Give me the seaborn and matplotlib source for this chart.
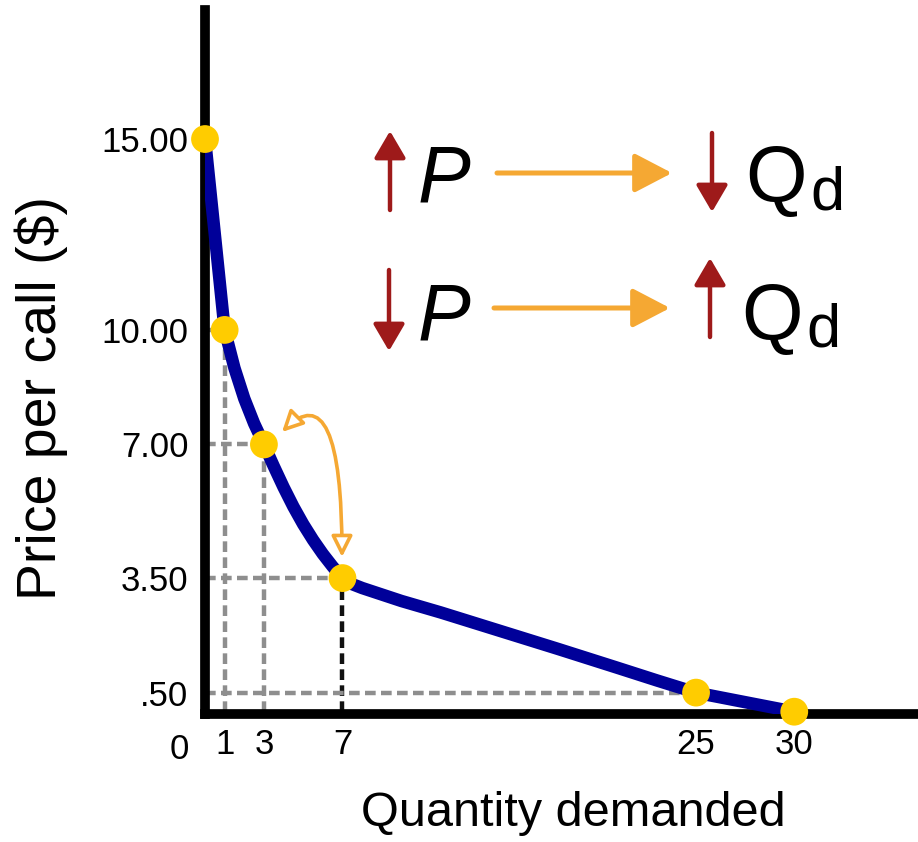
import matplotlib.pyplot as plt
import seaborn as sns
from matplotlib.patches import ArrowStyle

# demand schedule: quantity demanded at each price per call
quantity = [0, 1, 3, 7, 25, 30]
price = [15.0, 10.0, 7.0, 3.5, 0.5, 0.0]

# points
curve_q = [0, 0.5, 1, 1.5, 2, 2.5, 3, 3.5, 4, 4.5, 5, 5.5, 6, 6.5, 7,
           7.5, 8, 10, 12, 15, 18, 21, 23, 25, 27.5, 30]
curve_p = [15.0, 12.5, 10.0, 9.0, 8.2, 7.55, 7.0, 6.43, 5.88, 5.37, 4.91, 4.5, 4.13, 3.8, 3.5,
           3.34, 3.24, 2.9, 2.6, 2.12, 1.64, 1.15, 0.82, 0.5, 0.25, 0.0]

y_ticks = [15.0, 10.0, 7.0, 3.5, 0.5]
y_ticklabels = ["15.00", "10.00", "7.00", "3.50", ".50"]
x_ticks = [1, 3, 7, 25, 30]
x_ticklabels = ["1", "3", "7", "25", "30"]

NAVY = "#000099"
GOLD = "#ffcc00"
ORANGE = "#f5a833"
DARKRED = "#9e1a1a"
GREY = "#8e8e8e"

sns.set_theme(style="white")
plt.rcParams["font.family"] = ["Liberation Sans", "DejaVu Sans"]
plt.rcParams["text.color"] = "black"
plt.rcParams["axes.labelcolor"] = "black"

fig = plt.figure(figsize=(9.18, 8.42), dpi=100)
ax = fig.add_axes([205 / 918, 128 / 842, 713 / 918, 704 / 842])

# dashed guide lines from the points to the axes
dash = dict(lw=3.2, dashes=(2.4, 1.2), zorder=1)
ax.plot([1, 1], [0, 10], color=GREY, **dash)
ax.plot([3, 3], [0, 7], color=GREY, **dash)
ax.plot([7, 7], [0, 3.5], color="#111111", **dash)
ax.plot([0, 1], [10, 10], color=GREY, **dash)
ax.plot([0, 3], [7, 7], color=GREY, **dash)
ax.plot([0, 7], [3.5, 3.5], color=GREY, **dash)
ax.plot([0, 25], [0.5, 0.5], color=GREY, **dash)

sns.lineplot(x=curve_q, y=curve_p, sort=False, color=NAVY, lw=9,
             solid_joinstyle="round", solid_capstyle="round", ax=ax, zorder=3)
sns.scatterplot(x=quantity, y=price, s=400, color=GOLD, edgecolor="none",
                ax=ax, zorder=5, clip_on=False)

ax.set_xlim(0, 36.3)
ax.set_ylim(-0.06, 18.38)
for side in ["top", "right"]:
    ax.spines[side].set_visible(False)
for side in ["left", "bottom"]:
    ax.spines[side].set_color("black")
    ax.spines[side].set_linewidth(7)

ax.set_yticks(y_ticks)
ax.set_yticklabels(y_ticklabels)
ax.set_xticks(x_ticks)
ax.set_xticklabels(x_ticklabels)
ax.tick_params(axis="both", length=0, labelsize=25, colors="black")
ax.tick_params(axis="y", pad=12)
ax.tick_params(axis="x", pad=10)
ax.text(-1.3, -0.55, "0", fontsize=25, ha="center", va="top")

ax.set_xlabel("Quantity demanded", fontsize=35, va="center")
ax.xaxis.set_label_coords((573 - 205) / 713, -(813 - 714) / 704)
ax.set_ylabel("Price per call ($)", fontsize=40, va="center")
ax.yaxis.set_label_coords((41 - 205) / 713, (714 - 398) / 704)


def px(x, y):
    # image pixel (top-left origin) -> figure pixels
    return (x, 842 - y)


def arrow(x0, y0, x1, y1, color, lw, hl, hw):
    ax.annotate("", xy=px(x1, y1), xytext=px(x0, y0),
                xycoords="figure pixels", textcoords="figure pixels",
                arrowprops=dict(arrowstyle=ArrowStyle("-|>", head_length=hl, head_width=hw),
                                mutation_scale=20, color=color, lw=lw,
                                shrinkA=0, shrinkB=0))


# price / quantity relationship
arrow(390, 210, 390, 131, DARKRED, 3.2, 0.82, 0.48)
arrow(712, 133, 712, 212, DARKRED, 3.2, 0.82, 0.48)
arrow(389, 270, 389, 351, DARKRED, 3.2, 0.82, 0.48)
arrow(710, 337, 710, 258, DARKRED, 3.2, 0.82, 0.48)
arrow(497, 173, 672, 173, ORANGE, 3.6, 1.15, 0.6)
arrow(494, 308, 670, 308, ORANGE, 3.6, 1.15, 0.6)

for (x, y) in [(418, 202), (418, 340)]:
    fig.text(x / 918, 1 - y / 842, "P", fontsize=57, style="italic",
             ha="left", va="baseline")
for (x, y, yd) in [(745, 202, 210), (741, 340, 347)]:
    fig.text(x / 918, 1 - y / 842, "Q", fontsize=57, ha="left", va="baseline")
    fig.text((x + 65) / 918, 1 - yd / 842, "d", fontsize=44, ha="left", va="baseline")

# curved double arrow between (3, 7) and (7, 3.5)
ax.annotate("", xy=px(342, 557), xytext=px(282, 432),
            xycoords="figure pixels", textcoords="figure pixels",
            arrowprops=dict(arrowstyle=ArrowStyle("<|-|>", head_length=0.7, head_width=0.35),
                            mutation_scale=18, connectionstyle="angle3,angleA=45,angleB=90",
                            fc="white", ec=ORANGE, lw=2.6, shrinkA=0, shrinkB=0))

fig.savefig("out.png", dpi=100)
